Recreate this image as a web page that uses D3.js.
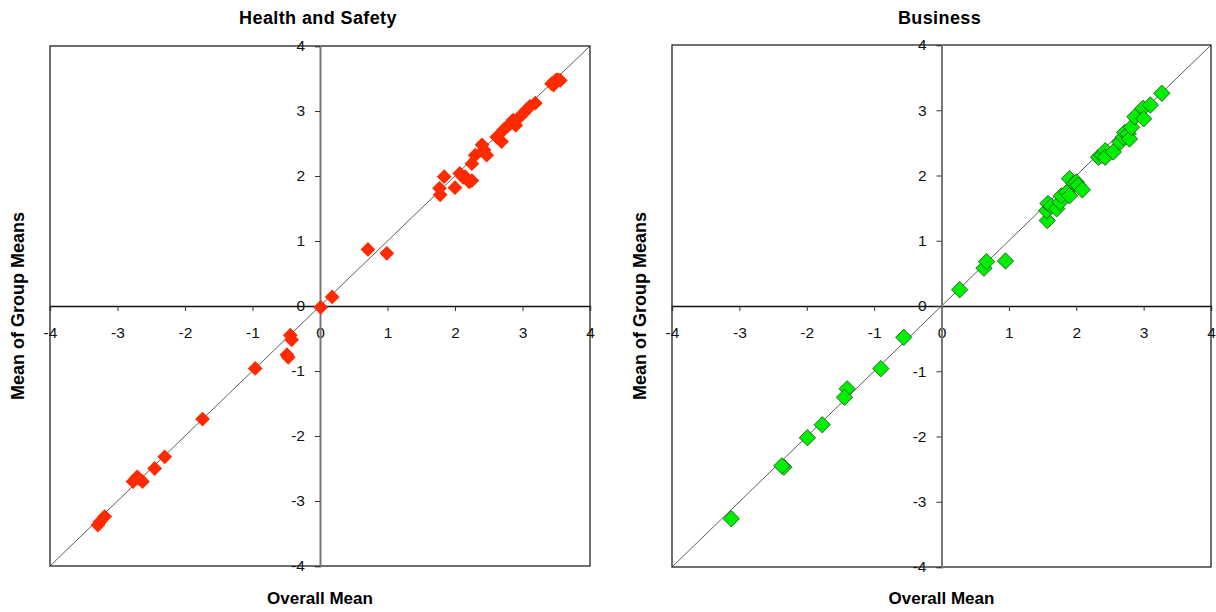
<!DOCTYPE html>
<html>
<head>
<meta charset="utf-8">
<script src="https://cdn.jsdelivr.net/npm/d3@7"></script>
<style>
  html, body { margin: 0; padding: 0; background: #fff; }
  svg { display: block; }
  text { font-family: "Liberation Sans", Arial, sans-serif; }
</style>
</head>
<body>
<svg id="chart" width="1216" height="612"></svg>
<script>
// Panel titles and axis tick values
const panelTitles = ["Health and Safety", "Business"];
const tickValues = [-4, -3, -2, -1, 0, 1, 2, 3, 4];

// Health and Safety: [overall mean, mean of group means]
const healthSafety = [
  [0.01, -0.02], [0.18, 0.14], [0.71, 0.87], [0.99, 0.81],
  [1.78, 1.71], [1.77, 1.81], [1.84, 1.99], [2.00, 1.82],
  [2.07, 2.04], [2.12, 1.98], [2.15, 1.99], [2.21, 1.91], [2.25, 1.93],
  [2.25, 2.19], [2.30, 2.32], [2.40, 2.48], [2.43, 2.40], [2.47, 2.32],
  [2.62, 2.60], [2.69, 2.53], [2.72, 2.71], [2.79, 2.78], [2.84, 2.82],
  [2.86, 2.86], [2.90, 2.78], [2.96, 2.91], [3.01, 2.96], [3.06, 3.02],
  [3.11, 3.07], [3.19, 3.12], [3.43, 3.42], [3.46, 3.40], [3.50, 3.48],
  [3.53, 3.48], [3.56, 3.47],
  [-0.44, -0.45], [-0.42, -0.52], [-0.49, -0.75], [-0.47, -0.79],
  [-0.96, -0.96], [-1.74, -1.74], [-2.30, -2.32], [-2.45, -2.50],
  [-2.69, -2.65], [-2.77, -2.70], [-2.63, -2.70], [-2.71, -2.63],
  [-3.19, -3.24], [-3.26, -3.32], [-3.29, -3.37]
];

// Business: [overall mean, mean of group means]
const business = [
  [0.27, 0.25], [0.63, 0.58], [0.67, 0.68], [0.95, 0.69],
  [1.57, 1.31], [1.56, 1.46], [1.58, 1.57], [1.63, 1.53], [1.71, 1.49],
  [1.76, 1.59], [1.78, 1.69], [1.86, 1.74], [1.90, 1.95], [1.90, 1.69],
  [1.97, 1.88], [2.00, 1.90], [2.03, 1.85], [2.09, 1.78],
  [2.33, 2.28], [2.38, 2.31], [2.43, 2.38], [2.43, 2.28], [2.55, 2.36],
  [2.65, 2.51], [2.70, 2.59], [2.72, 2.66], [2.77, 2.64], [2.79, 2.56],
  [2.82, 2.74], [2.87, 2.90], [2.99, 3.03], [3.00, 2.87], [3.10, 3.08],
  [3.27, 3.26],
  [-0.56, -0.48], [-0.90, -0.96], [-1.40, -1.27], [-1.44, -1.40],
  [-1.77, -1.82], [-1.99, -2.02], [-2.34, -2.47], [-2.37, -2.45],
  [-3.12, -3.26]
];

const svg = d3.select("#chart");

const panels = [
  { title: panelTitles[0], data: healthSafety, x0: 50, x1: 590, y0: 46, y1: 566,
    fill: "#ff2a00", stroke: "none", size: 7.4 },
  { title: panelTitles[1], data: business, x0: 672, x1: 1211, y0: 45, y1: 567,
    fill: "#00ee00", stroke: "#1d4d1d", size: 8.2 }
];

// plain hyphen for negative tick labels
const fmt = d => String(d);

panels.forEach(p => {
  const x = d3.scaleLinear().domain([-4, 4]).range([p.x0, p.x1]);
  const y = d3.scaleLinear().domain([-4, 4]).range([p.y1, p.y0]);
  const g = svg.append("g");

  // plot frame
  g.append("rect")
    .attr("x", p.x0).attr("y", p.y0)
    .attr("width", p.x1 - p.x0).attr("height", p.y1 - p.y0)
    .attr("fill", "none").attr("stroke", "#222").attr("stroke-width", 1.3);

  // identity line
  g.append("line")
    .attr("x1", x(-4)).attr("y1", y(-4))
    .attr("x2", x(4)).attr("y2", y(4))
    .attr("stroke", "#333").attr("stroke-width", 0.8);

  // x axis through y = 0
  const xAxis = d3.axisBottom(x).tickValues(tickValues).tickSize(5).tickPadding(16)
    .tickFormat(fmt);
  const gx = g.append("g").attr("transform", `translate(0,${y(0)})`).call(xAxis);
  gx.select(".domain").attr("stroke", "#111").attr("stroke-width", 1.4);
  gx.selectAll(".tick line").attr("stroke", "#333");
  gx.selectAll(".tick text").attr("font-size", 15.5).attr("fill", "#111")
    .attr("font-family", "'Liberation Sans', Arial, sans-serif");

  // y axis through x = 0
  const yAxis = d3.axisLeft(y).tickValues(tickValues).tickSize(5).tickPadding(10)
    .tickFormat(fmt);
  const gy = g.append("g").attr("transform", `translate(${x(0)},0)`).call(yAxis);
  gy.select(".domain").attr("stroke", "#777").attr("stroke-width", 2);
  gy.selectAll(".tick line").attr("stroke", "#333");
  gy.selectAll(".tick text").attr("font-size", 15.5).attr("fill", "#111")
    .attr("font-family", "'Liberation Sans', Arial, sans-serif");

  // points as diamonds
  const diamond = s => `M0,${-s}L${s},0L0,${s}L${-s},0Z`;
  g.append("g").selectAll("path")
    .data(p.data)
    .join("path")
    .attr("d", diamond(p.size))
    .attr("transform", d => `translate(${x(d[0])},${y(d[1])})`)
    .attr("fill", p.fill)
    .attr("stroke", p.stroke)
    .attr("stroke-width", p.stroke === "none" ? 0 : 0.8);

  const cx = x(0);

  // panel title
  g.append("text")
    .attr("x", cx - 2).attr("y", 24)
    .attr("text-anchor", "middle")
    .attr("font-weight", "bold").attr("font-size", 18)
    .attr("letter-spacing", 0.4)
    .text(p.title);

  // x axis title
  g.append("text")
    .attr("x", cx).attr("y", 604)
    .attr("text-anchor", "middle")
    .attr("font-weight", "bold").attr("font-size", 17)
    .text("Overall Mean");

  // y axis title
  g.append("text")
    .attr("transform", `translate(${p.x0 - 26},${y(0)}) rotate(-90)`)
    .attr("text-anchor", "middle")
    .attr("font-weight", "bold").attr("font-size", 18)
    .text("Mean of Group Means");
});
</script>
</body>
</html>
